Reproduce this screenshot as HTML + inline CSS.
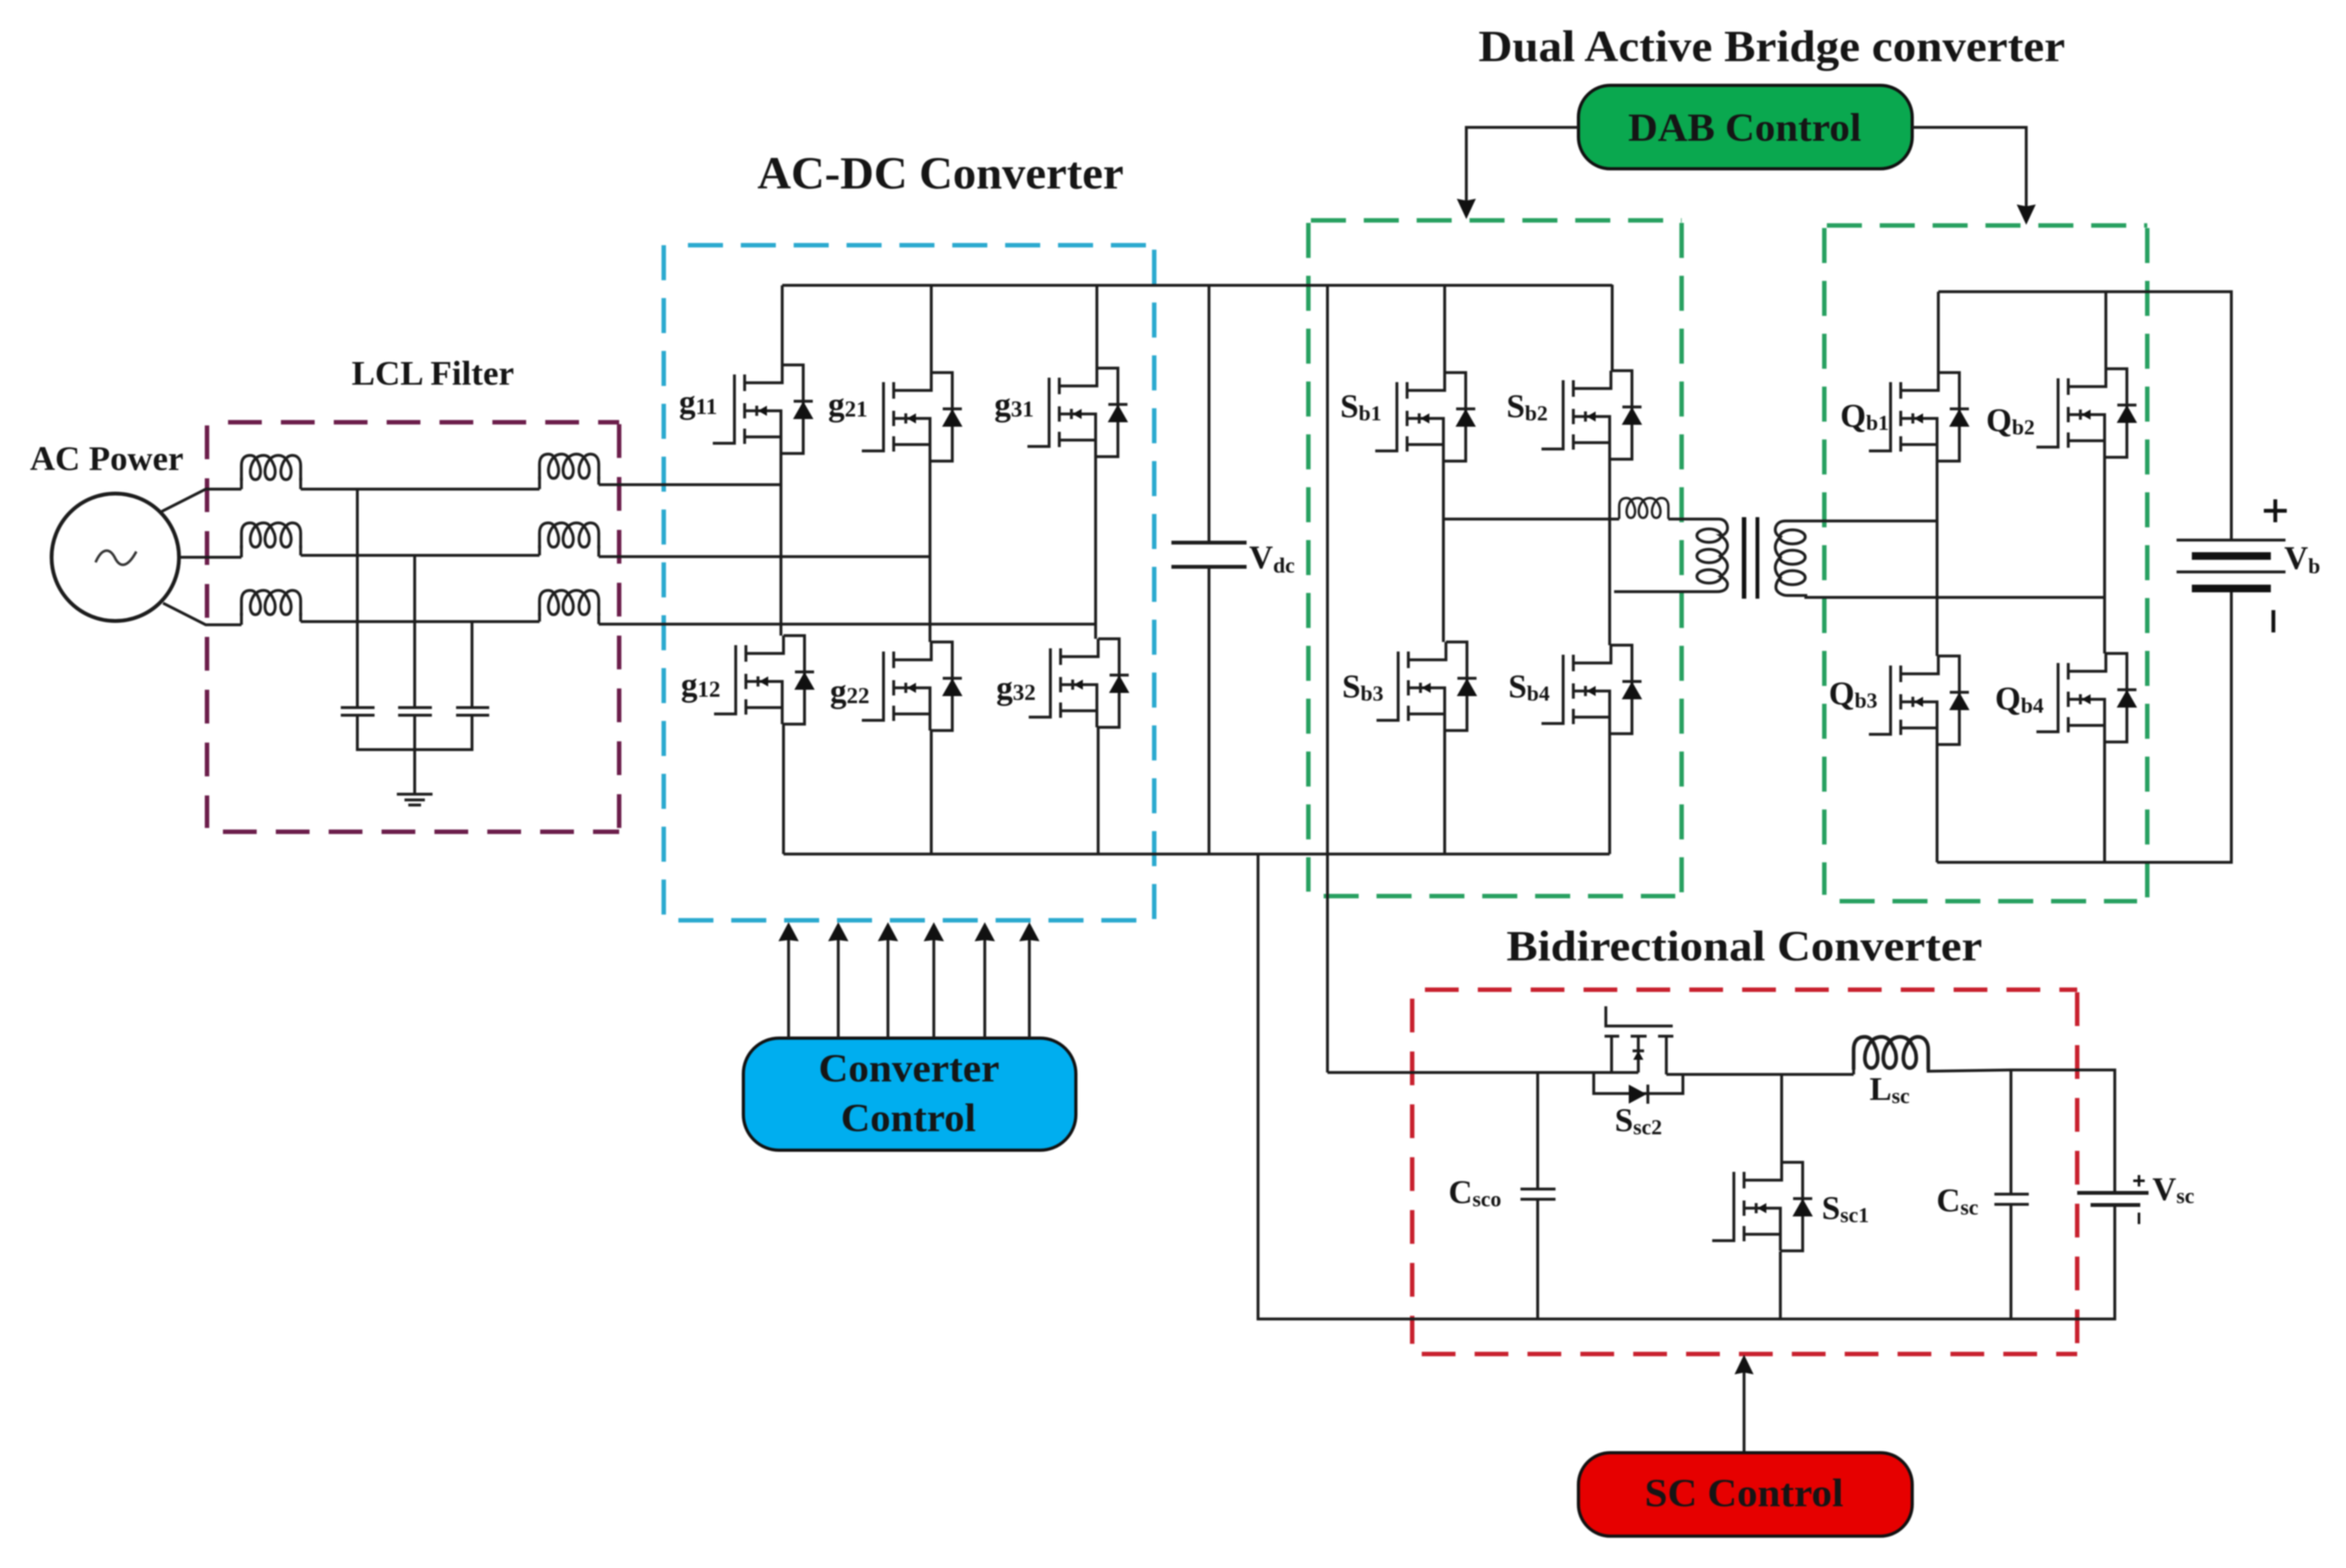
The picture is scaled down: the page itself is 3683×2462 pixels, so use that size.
<!DOCTYPE html>
<html><head><meta charset="utf-8"><style>
html,body{margin:0;padding:0;background:#fff}
svg{display:block;filter:blur(1.1px)}
text{font-family:"Liberation Serif",serif;font-weight:bold;fill:#151515}
.w{fill:none;stroke:#1c1c1c;stroke-width:4.5}
.t{fill:none;stroke:#1c1c1c;stroke-width:6}
.l{font-size:52px}
.d{fill:none;stroke-width:7}
</style></head><body>
<svg width="3683" height="2462" viewBox="0 0 3683 2462" xmlns="http://www.w3.org/2000/svg">
<defs>
<g id="m">
<path class="w" d="M0 0H33V139H-2M18 57H48M33 0V60M33 85V139M-109 123H-75V15M-59 15V41M-59 60V84M-59 100V124M-59 28H0V0M-59 72H-2V139M-59 113H-2"/>
<polygon points="33,57 17,85 49,85" fill="#111"/>
<polygon points="-38,72 -24,64 -24,80" fill="#111"/>
<path class="w" d="M-40 64V80"/>
</g>
<g id="i">
<path class="w" d="M0 40V16C0 4 6 0 14 0C22 0 26 8 29 18C32 30 28 38 22 38C16 38 12 30 15 18C18 8 24 0 35 0C44 0 48 8 52 18C55 30 51 38 45 38C39 38 35 30 38 18C41 8 48 0 58 0C68 0 73 8 77 18C80 30 76 38 70 38C64 38 60 30 63 18C66 8 72 0 80 0C88 0 93 6 93 16V40"/>
</g>
</defs>
<rect width="3683" height="2462" fill="#fff"/>

<!-- dashed boxes -->
<g class="d" stroke="#6b1d4a" stroke-dasharray="53 30">
<path d="M358 663H972"/><path d="M972 666V1306"/><path d="M325 668V1300"/><path d="M350 1306H972"/>
</g>
<g class="d" stroke="#2aa9cf" stroke-dasharray="55 28">
<path d="M1080 385H1812"/><path d="M1812 392V1445"/><path d="M1042 385V1445"/><path d="M1065 1445H1812"/>
</g>
<g class="d" stroke="#27a060" stroke-dasharray="55 28">
<path d="M2058 346H2640"/><path d="M2640 350V1407"/><path d="M2054 350V1400"/><path d="M2078 1407H2630"/>
<path d="M2868 354H3371"/><path d="M3371 358V1410"/><path d="M2864 358V1405"/><path d="M2888 1415H3355"/>
</g>
<g class="d" stroke="#c8202e" stroke-dasharray="53 30">
<path d="M2237 1554H3261"/><path d="M3261 1558V2126"/><path d="M2217 1568V2110"/><path d="M2232 2126H3261"/>
</g>

<!-- AC source -->
<circle class="t" cx="181" cy="875" r="100"/>
<path d="M150 883C160 860 172 860 180 875C188 892 200 892 214 866" fill="none" stroke="#333" stroke-width="4"/>
<path class="w" d="M254 803L323 768H379M282 875H379M256 947L323 981H379"/>

<!-- LCL wires -->
<use href="#i" x="379" y="715"/><use href="#i" x="379" y="821"/><use href="#i" x="379" y="927"/>
<use href="#i" x="847" y="713"/><use href="#i" x="847" y="821"/><use href="#i" x="847" y="927"/>
<path class="w" d="M379 768V750M472 768V750M379 875V856M472 872V856M379 981V962M472 976V962M847 768V748M940 761V748M847 872V856M940 874V856M847 976V962M940 980V962"/>
<path class="w" d="M472 768H847M940 761H1228M472 872H847M940 874H1462M472 976H847M940 980H1722"/>
<path class="w" d="M561 768V1111M561 1123V1177H741V1123M741 976V1111M651 872V1111M651 1123V1247"/>
<path class="w" d="M535 1111H588M535 1123H588M625 1111H678M625 1123H678M716 1111H768M716 1123H768"/>
<path class="w" d="M623 1247H679M635 1256H667M641 1264H661"/>

<!-- AC-DC bridge -->
<path class="w" d="M1228 448H2531M1228 448V573M1462 448V585M1722 448V578M1226 712V998M1460 724V1008M1720 717V1003M1230 1137V1341M1462 1147V1341M1724 1142V1341M1230 1341H2527"/>
<use href="#m" x="1228" y="573"/><use href="#m" x="1462" y="585"/><use href="#m" x="1722" y="578"/>
<use href="#m" x="1230" y="998"/><use href="#m" x="1462" y="1008"/><use href="#m" x="1724" y="1003"/>

<!-- Vdc -->
<path class="w" d="M1898 448V852M1898 890V1341"/>
<path class="t" d="M1839 852H1957M1839 890H1957"/>

<!-- DAB primary -->
<path class="w" d="M2084 447V1684M2531 447V582M2268 447V585M2266 724V1008M2527 721V1013M2268 1147V1341M2527 1152V1341"/>
<use href="#m" x="2268" y="585"/><use href="#m" x="2529" y="582"/><use href="#m" x="2270" y="1008"/><use href="#m" x="2529" y="1013"/>
<use href="#i" transform="translate(2542 782) scale(.83 .82)"/>
<path class="w" d="M2268 815H2542M2619 815H2698C2710 815 2712 825 2712 829C2712 836 2706 841 2701 841C2707 845 2712 850 2712 857C2712 864 2706 870 2701 873C2707 877 2712 882 2712 889C2712 896 2706 902 2701 905C2707 908 2712 913 2712 917C2712 925 2706 929 2695 929H2534"/>
<ellipse class="w" cx="2683" cy="841" rx="19" ry="10.5"/><ellipse class="w" cx="2683" cy="873" rx="19" ry="10.5"/><ellipse class="w" cx="2683" cy="905" rx="19" ry="10.5"/>
<path d="M2738 812V940" fill="none" stroke="#111" stroke-width="7"/>
<path d="M2759 812V940" fill="none" stroke="#111" stroke-width="6"/>
<path class="w" d="M3043 818H2803C2792 818 2787 825 2787 832C2787 838 2792 842 2795 843C2791 847 2787 852 2787 859C2787 866 2791 872 2795 875C2791 879 2787 884 2787 891C2787 898 2791 904 2795 907C2791 911 2788 916 2788 922C2788 930 2798 935 2806 935H2835V938H3306"/>
<ellipse class="w" cx="2814" cy="843" rx="20" ry="11"/><ellipse class="w" cx="2814" cy="875" rx="20" ry="11"/><ellipse class="w" cx="2814" cy="907" rx="20" ry="11"/>

<!-- DAB secondary -->
<path class="w" d="M3043 458H3503V846M3503 924V1354H3041M3043 458V585M3306 458V579M3041 724V1030M3304 718V1026M3041 1169V1354M3304 1165V1354"/>
<use href="#m" x="3043" y="585"/><use href="#m" x="3306" y="579"/><use href="#m" x="3043" y="1030"/><use href="#m" x="3306" y="1026"/>
<path class="w" d="M3417 848H3588M3417 898H3588"/>
<path d="M3441 873H3565M3441 924H3565" fill="none" stroke="#111" stroke-width="12"/>
<path d="M3554 802H3590M3572 784V820M3569 958V993" fill="none" stroke="#111" stroke-width="6"/>

<!-- Bidirectional -->
<path class="w" d="M1975 1341V2071H3320V1892M3320 1873V1680H3157L3027 1682V1675M2910 1675V1687M2084 1684H2572M2642 1687H2910M2616 1687H2642"/>
<path class="w" d="M2521 1580V1611H2626M2519 1627H2542M2560 1627H2585M2603 1627H2627M2530 1627V1684M2572 1627V1684M2616 1627V1687M2502 1684V1717H2642V1687M2587 1703V1733"/>
<polygon points="2557,1703 2585,1718 2557,1733" fill="#111"/>
<polygon points="2572,1650 2564,1664 2580,1664" fill="#111"/>
<path class="w" d="M2563 1650H2581"/>
<use href="#i" transform="translate(2910 1628) scale(1.26 1.29)"/>
<path class="w" d="M2414 1684V1867M2414 1883V2071M2387 1867H2442M2387 1883H2442"/>
<path class="w" d="M2797 1687V1825M2795 1965V2071"/>
<use href="#m" x="2797" y="1825"/>
<path class="w" d="M3157 1680V1875M3157 1891V2071M3131 1875H3185M3131 1891H3185"/>
<path class="t" d="M3261 1873H3373M3282 1892H3360"/>
<path d="M3349 1854H3367M3358 1845V1863M3358 1904V1922" fill="none" stroke="#111" stroke-width="4"/>

<!-- Control boxes -->
<rect x="2478" y="134" width="524" height="131" rx="50" fill="#0aa84f" stroke="#111" stroke-width="5"/>
<rect x="1167" y="1630" width="522" height="176" rx="56" fill="#00aeef" stroke="#111" stroke-width="5"/>
<rect x="2478" y="2281" width="524" height="131" rx="50" fill="#e60000" stroke="#111" stroke-width="5"/>

<!-- Arrows -->
<path class="w" d="M2478 200H2302V320M3002 200H3181V325M2738 2279V2150M1238 1630V1475M1316 1630V1475M1394 1630V1475M1466 1630V1475M1546 1630V1475M1616 1630V1475"/>
<g fill="#111">
<polygon points="2302,344 2287,312 2302,315 2317,312"/>
<polygon points="3181,353 3166,321 3181,324 3196,321"/>
<polygon points="2738,2127 2723,2158 2738,2155 2753,2158"/>
<polygon points="1238,1448 1222,1478 1238,1476 1254,1478"/>
<polygon points="1316,1448 1300,1478 1316,1476 1332,1478"/>
<polygon points="1394,1448 1378,1478 1394,1476 1410,1478"/>
<polygon points="1466,1448 1450,1478 1466,1476 1482,1478"/>
<polygon points="1546,1448 1530,1478 1546,1476 1562,1478"/>
<polygon points="1616,1448 1600,1478 1616,1476 1632,1478"/>
</g>

<!-- Titles -->
<text x="2321" y="96" font-size="70" textLength="921" lengthAdjust="spacingAndGlyphs">Dual Active Bridge converter</text>
<text x="1189" y="296" font-size="72" textLength="575" lengthAdjust="spacingAndGlyphs">AC-DC Converter</text>
<text x="552" y="604" font-size="54" textLength="255" lengthAdjust="spacingAndGlyphs">LCL Filter</text>
<text x="47" y="738" font-size="54" textLength="241" lengthAdjust="spacingAndGlyphs">AC Power</text>
<text x="2365" y="1508" font-size="68" textLength="747" lengthAdjust="spacingAndGlyphs">Bidirectional Converter</text>
<text x="2556" y="221" font-size="62" textLength="366" lengthAdjust="spacingAndGlyphs">DAB Control</text>
<text x="1285" y="1698" font-size="62" textLength="284" lengthAdjust="spacingAndGlyphs">Converter</text>
<text x="1320" y="1776" font-size="62" textLength="212" lengthAdjust="spacingAndGlyphs">Control</text>
<text x="2582" y="2365" font-size="62" textLength="312" lengthAdjust="spacingAndGlyphs">SC Control</text>

<!-- Labels -->
<g class="l">
<text x="1066" y="648">g<tspan font-size="36" dy="2">11</tspan></text>
<text x="1300" y="652">g<tspan font-size="36" dy="2">21</tspan></text>
<text x="1561" y="652">g<tspan font-size="36" dy="2">31</tspan></text>
<text x="1069" y="1092">g<tspan font-size="36" dy="2">12</tspan></text>
<text x="1303" y="1102">g<tspan font-size="36" dy="2">22</tspan></text>
<text x="1564" y="1097">g<tspan font-size="36" dy="2">32</tspan></text>
<text x="2104" y="655">S<tspan font-size="34" dy="5">b1</tspan></text>
<text x="2365" y="655">S<tspan font-size="34" dy="5">b2</tspan></text>
<text x="2107" y="1095">S<tspan font-size="34" dy="5">b3</tspan></text>
<text x="2368" y="1095">S<tspan font-size="34" dy="5">b4</tspan></text>
<text x="2889" y="670">Q<tspan font-size="34" dy="5">b1</tspan></text>
<text x="3118" y="677">Q<tspan font-size="34" dy="5">b2</tspan></text>
<text x="2871" y="1106">Q<tspan font-size="34" dy="5">b3</tspan></text>
<text x="3132" y="1114">Q<tspan font-size="34" dy="5">b4</tspan></text>
<text x="3586" y="893">V<tspan font-size="34" dy="7">b</tspan></text>
<text x="1961" y="892">V<tspan font-size="34" dy="7">dc</tspan></text>
<text x="2935" y="1727">L<tspan font-size="34" dy="5">sc</tspan></text>
<text x="2535" y="1776">S<tspan font-size="34" dy="5">sc2</tspan></text>
<text x="2860" y="1914">S<tspan font-size="34" dy="5">sc1</tspan></text>
<text x="2274" y="1889">C<tspan font-size="34" dy="5">sco</tspan></text>
<text x="3040" y="1902">C<tspan font-size="34" dy="5">sc</tspan></text>
<text x="3379" y="1884">V<tspan font-size="34" dy="5">sc</tspan></text>
</g>
</svg>
</body></html>
